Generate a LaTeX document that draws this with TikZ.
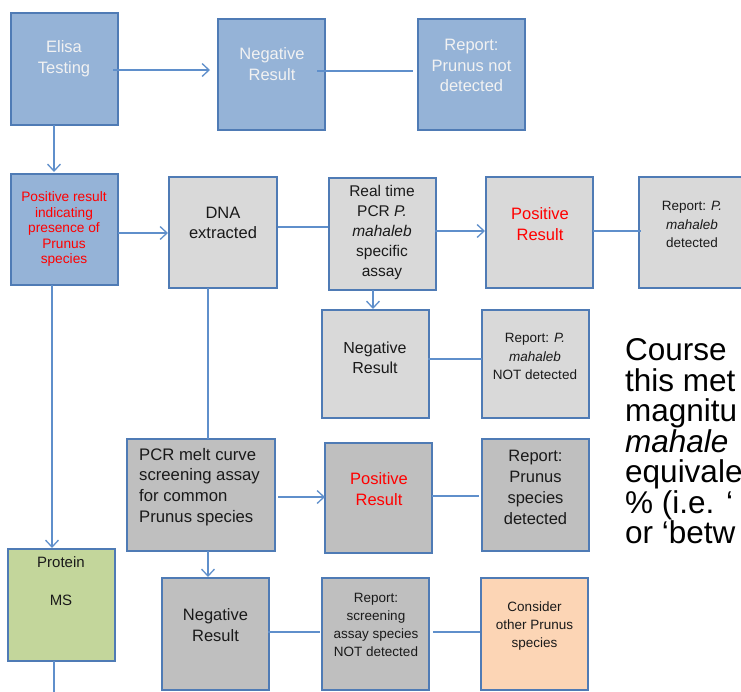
\documentclass[tikz,border=0pt]{standalone}
\usepackage{fontspec}
\setmainfont{Liberation Sans}
\usetikzlibrary{calc,arrows.meta}
\definecolor{bfill}{HTML}{95B3D7}
\definecolor{bord}{HTML}{4F7BB5}
\definecolor{lnc}{HTML}{5F8FCB}
\definecolor{lgray}{HTML}{D9D9D9}
\definecolor{dgray}{HTML}{BFBFBF}
\definecolor{gfill}{HTML}{C3D69B}
\definecolor{pfill}{HTML}{FCD5B5}
\definecolor{wtxt}{HTML}{F2F2F2}
\definecolor{rtxt}{HTML}{FF0000}
\definecolor{ktxt}{HTML}{1A1A1A}
\begin{document}
\begin{tikzpicture}[x=1pt,y=-1pt,
  boxbase/.style={draw=bord, line width=1.3pt, inner sep=0pt, outer sep=0pt},
  sz/.style 2 args={minimum width=#1pt, minimum height=#2pt},
  bluebox/.style={boxbase, fill=bfill},
  lgbox/.style={boxbase, fill=lgray},
  dgbox/.style={boxbase, fill=dgray},
  greenbox/.style={boxbase, fill=gfill},
  peachbox/.style={boxbase, fill=pfill},
  txt/.style={align=center, inner sep=0pt, text=ktxt},
  big/.style={font={\fontsize{16.5pt}{21pt}\selectfont}},
  mid/.style={font={\fontsize{15.5pt}{20pt}\selectfont}},
  small/.style={font={\fontsize{13.5pt}{18.5pt}\selectfont}},
  conn/.style={draw=lnc, line width=1.3pt},
  arr/.style={conn, -{Straight Barb[length=7pt,width=13pt,line width=1.3pt]}}
]
\useasboundingbox (0,0) rectangle (741,691);
\clip (0,0) rectangle (741,691);

% boxes
\node[bluebox, sz={107}{112}] (elisa) at (64.5,69) {};
\node[bluebox, sz={107}{111}] (neg1) at (271.5,74.5) {};
\node[bluebox, sz={107}{111}] (rep1) at (471.5,74.5) {};
\node[bluebox, sz={107}{111}] (pos1) at (64.5,229.5) {};
\node[lgbox, sz={108}{111}] (dna) at (223,232.5) {};
\node[lgbox, sz={107}{112}] (rtpcr) at (382.5,234) {};
\node[lgbox, sz={107}{111}] (pos2) at (539.5,232.5) {};
\node[lgbox, sz={107}{111}] (rep2) at (692.5,232.5) {};
\node[lgbox, sz={107}{108}] (neg2) at (375.5,364) {};
\node[lgbox, sz={107}{108}] (rep3) at (535.5,364) {};
\node[dgbox, sz={148}{112}] (melt) at (201,495) {};
\node[dgbox, sz={107}{110}] (pos3) at (378.5,498) {};
\node[dgbox, sz={107}{112}] (rep4) at (535.5,495) {};
\node[dgbox, sz={107}{112}] (neg3) at (215.5,634) {};
\node[dgbox, sz={107}{112}] (rep5) at (375.5,634) {};
\node[peachbox, sz={107}{112}] (cons) at (534.5,634) {};
\node[greenbox, sz={107}{112}] (prot) at (61.5,605) {};

% texts
\node[txt, big, text=wtxt] (elisa-t) at (64,58.5) {Elisa\\Testing};
\node[txt, big, text=wtxt] (neg1-t) at (272,64) {Negative\\Result};
\node[txt, font={\fontsize{16.5pt}{20.5pt}\selectfont}, text=wtxt] (rep1-t) at (471.5,65.5) {Report:\\Prunus not\\detected};
\node[txt, font={\fontsize{13.7pt}{15.5pt}\selectfont}, text=rtxt] (pos1-t) at (64,229) {Positive result\\indicating\\presence of\\Prunus\\species};
\node[txt, font={\fontsize{16.5pt}{20pt}\selectfont}] (dna-t) at (223,223) {DNA\\extracted};
\node[txt, mid] (rtpcr-t) at (382,232) {Real time\\PCR \textit{P.}\\\textit{mahaleb}\\specific\\assay};
\node[txt, big, text=rtxt] (pos2-t) at (540,224.5) {Positive\\Result};
\node[txt, small] (rep2-t) at (692,224.5) {Report: \textit{P.}\\\textit{mahaleb}\\detected};
\node[txt, font={\fontsize{16pt}{20pt}\selectfont}] (neg2-t) at (375,358) {Negative\\Result};
\node[txt, small] (rep3-t) at (535,356.5) {Report: \textit{P.}\\\textit{mahaleb}\\NOT detected};
\node[txt, font={\fontsize{16.7pt}{20.7pt}\selectfont}, align=left, anchor=west] (melt-t) at (139,487) {PCR melt curve\\screening assay\\for common\\Prunus species};
\node[txt, big, text=rtxt] (pos3-t) at (379,489.5) {Positive\\Result};
\node[txt, big] (rep4-t) at (535.5,487) {Report:\\Prunus\\species\\detected};
\node[txt, big] (neg3-t) at (215.5,625.5) {Negative\\Result};
\node[txt, font={\fontsize{13.5pt}{18pt}\selectfont}] (rep5-t) at (376,625) {Report:\\screening\\assay species\\NOT detected};
\node[txt, font={\fontsize{13.5pt}{18pt}\selectfont}] (cons-t) at (534.5,626) {Consider\\other Prunus\\species};
\node[txt, font={\fontsize{15pt}{19pt}\selectfont}] (prot-t) at (61,581) {Protein\\[19pt]MS};
\node[txt, font={\fontsize{31.5pt}{30.5pt}\selectfont}, align=left, anchor=west, text=black] (side-t) at (625,441.5) {Course\\this met\\magnitu\\\textit{mahale}\\equivale\\\% (i.e. ‘\\or ‘betw};

% connectors
\draw[arr] ($(elisa.east)+(-5,1)$) -- ($(neg1.west)+(-8,-4.5)$);
\draw[conn] ($(neg1.east)+(-8,-3.5)$) -- ($(rep1.west)+(-5,-3.5)$);
\draw[arr] ($(elisa.south)+(-10.5,0)$) -- ($(pos1.north)+(-10.5,-2)$);
\draw[arr] ($(pos1.east)+(0,3.5)$) -- ($(dna.west)+(-1,0.5)$);
\draw[conn] ($(dna.east)+(1,-5.5)$) -- ($(rtpcr.west)+(-1,-7)$);
\draw[arr] ($(rtpcr.east)+(-1,-3)$) -- ($(pos2.west)+(-1,-1.5)$);
\draw[conn] ($(pos2.east)+(0,-1.5)$) -- ($(rep2.west)+(2,-1.5)$);
\draw[arr] ($(rtpcr.south)+(-9.5,0)$) -- ($(neg2.north)+(-2.5,-1)$);
\draw[conn] ($(neg2.east)+(-1,-5)$) -- ($(rep3.west)+(0,-5)$);
\draw[arr] ($(pos1.south)+(-12.5,0)$) -- ($(prot.north)+(-9.5,-1)$);
\draw[conn] ($(dna.south)+(-15,0)$) -- ($(melt.north)+(7,0)$);
\draw[arr] ($(melt.east)+(3,2)$) -- ($(pos3.west)+(0,-1)$);
\draw[conn] ($(pos3.east)+(0,-2)$) -- ($(rep4.west)+(-3,1)$);
\draw[arr] ($(melt.south)+(7,0)$) -- ($(neg3.north)+(-7.5,-1)$);
\draw[conn] ($(neg3.east)+(-1,-2)$) -- ($(rep5.west)+(-2,-2)$);
\draw[conn] ($(rep5.east)+(4,-2)$) -- ($(cons.west)+(-1,-2)$);
\coordinate (protend) at (54,692);
\draw[conn] ($(prot.south)+(-7.5,0)$) -- (protend);
\end{tikzpicture}
\end{document}
